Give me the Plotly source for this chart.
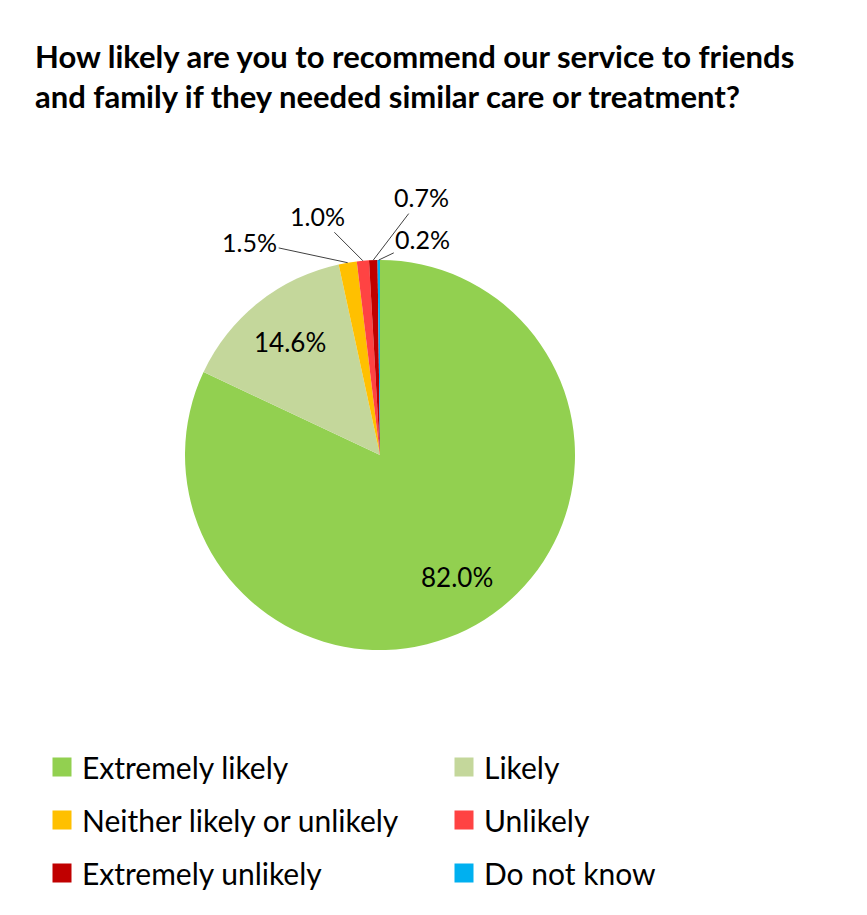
import numpy as np
import plotly.graph_objects as go

# ── Data ───────────────────────────────────────────────
labels = ["Extremely likely", "Likely", "Neither likely or unlikely",
          "Unlikely", "Extremely unlikely", "Do not know"]
values = [82.0, 14.6, 1.5, 1.0, 0.7, 0.2]
colors = ["#92D050", "#C4D79B", "#FFC000", "#FF4343", "#C00000", "#00B0F0"]

title = ("How likely are you to recommend our service to friends<br>"
         "and family if they needed similar care or treatment?")

W, H = 867, 915
FONT = "Lato"

# pie placement (pixels, figure coords; page adds 8px body margin)
cx, cy, r = 372, 447, 195
dom_x = [(cx - r) / W, (cx + r) / W]
dom_y = [1 - (cy + r) / H, 1 - (cy - r) / H]

fig = go.Figure(go.Pie(
    labels=labels, values=values, sort=False, direction="clockwise",
    rotation=0, marker=dict(colors=colors, line=dict(width=0)),
    textinfo="none", domain=dict(x=dom_x, y=dom_y),
    hoverinfo="label+value", showlegend=False,
))

# ── data labels: inside for big slices, callouts for small ──
cum = np.cumsum([0] + values[:-1])
total = sum(values)
offsets = {2: (-98, -21), 3: (-45, -45), 4: (48, -63), 5: (44, -21)}
for i, v in enumerate(values):
    mid = np.radians((cum[i] + v / 2) / total * 360)
    if i in offsets:
        ax, ay = offsets[i]
        px_ = cx + r * np.sin(mid)
        py_ = cy - r * np.cos(mid)
        fig.add_annotation(
            x=px_ / W, y=1 - py_ / H, xref="paper", yref="paper",
            text=f"{v:.1f}%", showarrow=True, arrowhead=0,
            arrowwidth=1, arrowcolor="#404040", ax=ax, ay=ay, standoff=0,
            font=dict(family=FONT, size=25, color="black"),
        )
    else:
        px_ = cx + 0.74 * r * np.sin(mid)
        py_ = cy - 0.74 * r * np.cos(mid)
        fig.add_annotation(
            x=px_ / W, y=1 - py_ / H, xref="paper", yref="paper",
            xanchor="center", yanchor="middle",
            text=f"{v:.1f}%", showarrow=False,
            font=dict(family=FONT, size=26, color="black"),
        )

# ── legend: 3 rows x 2 columns, one legend per row ────
legend_rows = ["legend", "legend2", "legend3"]
row_y = [759, 812, 865]
for i, (lab, col) in enumerate(zip(labels, colors)):
    fig.add_trace(go.Scatter(
        x=[None], y=[None], mode="markers", name=lab,
        marker=dict(symbol="square", size=16, color=col,
                    line=dict(color=col, width=3)),
        legend=legend_rows[i // 2], hoverinfo="skip",
    ))

leg_style = dict(orientation="h", x=34 / W, xanchor="left", yanchor="middle",
                 entrywidth=357, entrywidthmode="pixels",
                 font=dict(family=FONT, size=30, color="black"),
                 itemsizing="trace", bgcolor="rgba(0,0,0,0)")
legends = {name: dict(leg_style, y=1 - yy / H)
           for name, yy in zip(legend_rows, row_y)}

fig.update_layout(
    width=W, height=H,
    margin=dict(l=0, r=0, t=0, b=0),
    paper_bgcolor="white", plot_bgcolor="white",
    xaxis=dict(visible=False), yaxis=dict(visible=False),
    title=dict(text=title, x=27 / W, xanchor="left", y=1 - 60 / H,
               yanchor="top",
               font=dict(family=FONT, size=31, color="black", weight="bold")),
    **legends,
)

fig.write_html("out.html")
